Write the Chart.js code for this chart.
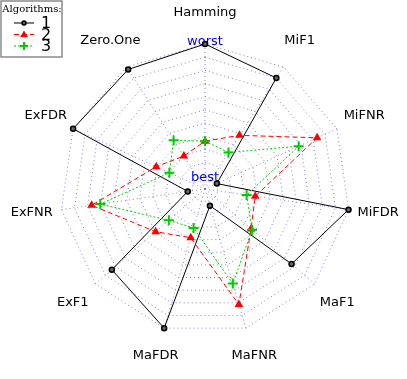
<!DOCTYPE html>
<html>
<head>
<meta charset="utf-8">
<script src="https://cdn.jsdelivr.net/npm/chart.js@4.4.1/dist/chart.umd.min.js"></script>
<style>
  body { margin: 0; background: #fff; }
  #wrap { width: 407px; height: 379px; position: relative; }
</style>
</head>
<body>
<div id="wrap"><canvas id="chart"></canvas></div>
<script>
// measures (one spoke each), values scaled 0 = best .. 1 = worst
const measures = ['Hamming', 'MiF1', 'MiFNR', 'MiFDR', 'MaF1', 'MaFNR', 'MaFDR', 'ExF1', 'ExFNR', 'ExFDR', 'Zero.One'];
const algo1 = [1.00, 0.91, 0.09, 1.00, 0.79, 0.12, 1.00, 0.85, 0.12, 1.00, 0.98];
const algo2 = [0.33, 0.44, 0.85, 0.35, 0.42, 0.83, 0.35, 0.45, 0.79, 0.37, 0.27];
const algo3 = [0.33, 0.30, 0.71, 0.29, 0.43, 0.68, 0.28, 0.33, 0.73, 0.27, 0.40];
const seriesNames = ['1', '2', '3'];

const gridColor = 'rgba(100, 100, 200, 0.8)';

// spoke labels + best/worst, drawn under the data
const labelPlugin = {
    id: 'labelPlugin',
    beforeDatasetsDraw(chart) {
        const ctx = chart.ctx;
        const scale = chart.scales.r;
        ctx.save();
        ctx.textAlign = 'center';
        ctx.textBaseline = 'middle';
        ctx.font = '13px "DejaVu Sans"';
        ctx.fillStyle = '#000';
        measures.forEach(function (m, i) {
            const p = scale.getPointPosition(i, scale.drawingArea + 30);
            ctx.fillText(m, p.x, p.y - 1);
        });
        ctx.fillStyle = '#0000ff';
        const top = scale.getPointPosition(0, scale.drawingArea);
        ctx.fillText('worst', top.x, top.y - 2);
        ctx.fillText('best', scale.xCenter, scale.yCenter - 11);
        ctx.restore();
    }
};

// boxed legend in the top-left corner
const legendPlugin = {
    id: 'legendPlugin',
    afterDraw(chart) {
        const ctx = chart.ctx;
        ctx.save();
        ctx.fillStyle = '#fff';
        ctx.fillRect(1, 1, 61, 56);
        ctx.strokeStyle = '#8a8a8a';
        ctx.lineWidth = 1.5;
        ctx.strokeRect(1, 1, 61, 56);
        ctx.fillStyle = '#000';
        ctx.font = '10px "DejaVu Serif"';
        ctx.textAlign = 'center';
        ctx.textBaseline = 'middle';
        ctx.fillText('Algorithms:', 32, 9);

        chart.data.datasets.forEach(function (ds, i) {
            const y = 23 + i * 11.5;
            ctx.strokeStyle = ds.borderColor;
            ctx.lineWidth = 1;
            ctx.setLineDash(ds.borderDash || []);
            ctx.beginPath();
            ctx.moveTo(14, y);
            ctx.lineTo(34, y);
            ctx.stroke();
            ctx.setLineDash([]);
            drawMarker(ctx, ds, 24, y, 0.8);
            ctx.fillStyle = '#000';
            ctx.font = '16px "DejaVu Sans"';
            ctx.textAlign = 'left';
            ctx.fillText(seriesNames[i], 41, y + 1);
        });
        ctx.restore();
    }
};

function drawMarker(ctx, ds, x, y, k) {
    const r = ds.pointRadius * k;
    ctx.lineWidth = ds.pointBorderWidth;
    ctx.strokeStyle = ds.pointBorderColor;
    ctx.fillStyle = ds.pointBackgroundColor;
    ctx.beginPath();
    if (ds.pointStyle === 'circle') {
        ctx.arc(x, y, r, 0, Math.PI * 2);
        ctx.fill();
        ctx.stroke();
    } else if (ds.pointStyle === 'triangle') {
        ctx.moveTo(x, y - r);
        ctx.lineTo(x + r * 0.95, y + r * 0.6);
        ctx.lineTo(x - r * 0.95, y + r * 0.6);
        ctx.closePath();
        ctx.fill();
    } else {
        ctx.moveTo(x - r, y);
        ctx.lineTo(x + r, y);
        ctx.moveTo(x, y - r);
        ctx.lineTo(x, y + r);
        ctx.stroke();
    }
}

const ctx = document.getElementById('chart').getContext('2d');
const chart = new Chart(ctx, {
    type: 'radar',
    data: {
        labels: measures,
        datasets: [{
            label: seriesNames[0],
            data: algo1,
            borderColor: '#000000',
            borderWidth: 1,
            fill: false,
            pointStyle: 'circle',
            pointRadius: 2.5,
            pointBorderWidth: 1.5,
            pointBorderColor: '#000000',
            pointBackgroundColor: '#666666',
            order: 3
        },
        {
            label: seriesNames[1],
            data: algo2,
            borderColor: '#ff0000',
            borderWidth: 1,
            borderDash: [5, 3],
            fill: false,
            pointStyle: 'triangle',
            pointRadius: 5,
            pointBorderWidth: 0,
            pointBorderColor: '#ff0000',
            pointBackgroundColor: '#ff0000',
            order: 2
        },
        {
            label: seriesNames[2],
            data: algo3,
            borderColor: '#00cc00',
            borderWidth: 1,
            borderDash: [2, 2],
            fill: false,
            pointStyle: 'cross',
            pointRadius: 5,
            pointBorderWidth: 2,
            pointBorderColor: '#00cc00',
            pointBackgroundColor: '#00cc00',
            order: 1
        }]
    },
    options: {
        responsive: true,
        maintainAspectRatio: false,
        animation: false,
        layout: {
            padding: { left: 60, right: 57, top: 44, bottom: 45 }
        },
        plugins: {
            legend: { display: false },
            tooltip: { enabled: false }
        },
        elements: {
            line: { tension: 0 }
        },
        scales: {
            r: {
                min: 0,
                max: 1,
                ticks: { display: false, stepSize: 1 / 11 },
                pointLabels: { display: false },
                grid: {
                    color: gridColor,
                    lineWidth: 1
                },
                border: {
                    dash: [1, 3]
                },
                angleLines: {
                    color: gridColor,
                    lineWidth: 1,
                    borderDash: [1, 3]
                }
            }
        }
    },
    plugins: [labelPlugin, legendPlugin]
});
</script>
</body>
</html>
